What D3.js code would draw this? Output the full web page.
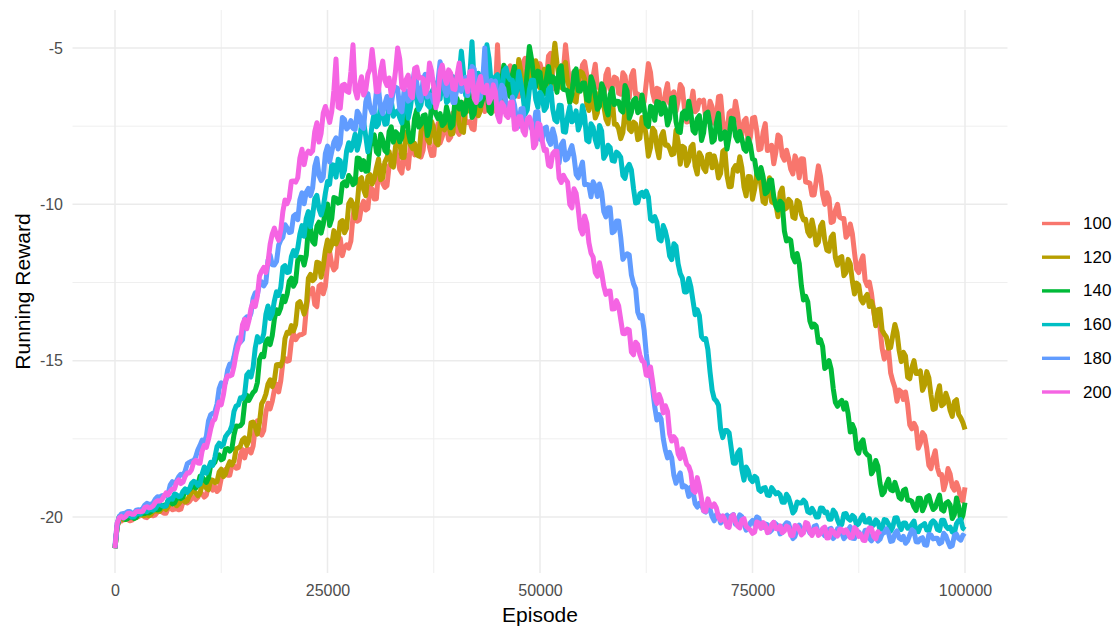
<!DOCTYPE html>
<html>
<head>
<meta charset="utf-8">
<script src="https://cdn.jsdelivr.net/npm/d3@7"></script>
<style>
  body { margin: 0; background: #ffffff; }
  svg { display: block; font-family: "Liberation Sans", Arial, Helvetica, sans-serif; }
</style>
</head>
<body>
<svg id="chart" width="1117" height="627"></svg>
<script>
// Running reward per episode, logged every 250 episodes, one array per setting.
const EPISODE_STEP = 250;
const seriesNames = ["100", "120", "140", "160", "180", "200"];
const seriesColors = ["#F8766D", "#B79F00", "#00BA38", "#00BFC4", "#619CFF", "#F564E3"];
const xTicks = [0, 25000, 50000, 75000, 100000];
const xMinor = [12500, 37500, 62500, 87500];
const yTicks = [-20, -15, -10, -5];
const yMinor = [-17.5, -12.5, -7.5];

const reward100 = [
  -21.0,-20.30,-20.14,-20.13,-20.03,-20.04,-20.08,-20.12,-20.10,-20.01,
  -20.00,-19.99,-19.94,-19.94,-20.00,-20.02,-19.94,-19.94,-19.96,-19.93,
  -19.84,-19.79,-19.83,-19.88,-19.88,-19.72,-19.65,-19.77,-19.75,-19.73,
  -19.77,-19.75,-19.52,-19.46,-19.55,-19.50,-19.41,-19.37,-19.44,-19.37,
  -19.19,-19.26,-19.36,-19.30,-18.95,-18.97,-19.14,-19.03,-19.18,-19.11,
  -18.76,-18.55,-18.48,-18.66,-18.66,-18.35,-18.36,-18.44,-18.42,-18.02,
  -17.84,-18.11,-17.84,-17.84,-17.95,-17.73,-17.15,-16.92,-17.29,-17.38,
  -17.23,-16.65,-16.36,-16.54,-16.30,-15.94,-15.75,-16.00,-15.65,-15.05,
  -14.93,-15.02,-14.99,-14.38,-14.13,-14.33,-14.23,-14.17,-14.16,-14.12,
  -13.35,-12.90,-12.80,-12.69,-13.20,-13.27,-12.61,-12.56,-12.86,-12.62,
  -11.93,-11.52,-11.91,-12.10,-12.02,-11.29,-11.09,-11.64,-11.38,-11.30,
  -11.40,-11.17,-10.39,-10.02,-10.54,-10.49,-10.07,-9.90,-10.18,-10.13,
  -9.45,-9.51,-9.83,-9.82,-8.90,-8.76,-9.33,-9.46,-9.40,-8.77,
  -8.68,-8.69,-8.25,-8.52,-8.88,-9.00,-8.40,-8.45,-8.85,-8.10,
  -7.97,-8.42,-8.15,-8.14,-8.49,-8.27,-7.59,-7.48,-8.17,-8.44,
  -8.43,-7.66,-7.42,-8.04,-7.84,-7.58,-7.49,-7.94,-7.85,-7.08,
  -7.20,-7.66,-7.76,-7.04,-6.76,-7.39,-7.38,-7.35,-7.58,-7.61,
  -6.74,-6.14,-6.25,-6.73,-7.03,-6.49,-6.48,-6.98,-7.02,-6.46,
  -4.90,-6.44,-6.17,-6.17,-6.52,-5.73,-5.57,-6.27,-6.24,-6.22,
  -6.55,-6.24,-5.48,-5.33,-5.99,-5.97,-5.67,-5.63,-6.13,-6.22,
  -5.50,-5.74,-6.16,-5.98,-5.26,-5.17,-5.98,-6.31,-6.28,-5.71,
  -5.58,-5.72,-4.90,-5.56,-6.15,-6.40,-5.75,-5.73,-6.42,-6.07,
  -5.54,-5.44,-5.87,-6.36,-6.39,-5.91,-5.52,-6.26,-6.27,-6.29,
  -6.67,-5.86,-5.68,-6.33,-6.25,-5.93,-5.97,-6.45,-6.48,-5.79,
  -5.90,-6.38,-6.59,-5.89,-5.72,-6.50,-6.47,-6.55,-6.80,-6.73,
  -6.11,-5.50,-5.78,-6.43,-6.71,-6.29,-6.32,-6.98,-7.01,-6.44,
  -6.14,-6.77,-6.49,-6.40,-7.02,-6.69,-6.17,-6.29,-6.94,-7.37,
  -7.35,-6.82,-6.38,-7.04,-6.97,-6.67,-6.72,-6.67,-7.25,-7.34,
  -6.70,-6.88,-7.41,-7.21,-6.56,-6.54,-7.33,-7.64,-7.68,-7.08,
  -7.01,-7.26,-6.70,-7.10,-7.68,-7.78,-7.33,-7.25,-8.07,-7.84,
  -7.24,-7.22,-7.64,-8.25,-8.22,-7.69,-7.42,-8.28,-8.24,-8.11,
  -8.70,-8.33,-7.78,-7.85,-8.45,-8.59,-8.27,-8.53,-8.88,-9.03,
  -8.45,-8.62,-9.15,-8.54,-8.55,-9.29,-9.30,-9.32,-9.70,-9.70,
  -9.25,-8.77,-9.10,-9.69,-10.00,-9.63,-9.80,-10.58,-10.55,-10.19,
  -10.00,-10.41,-10.45,-10.45,-11.05,-10.96,-10.63,-10.94,-11.55,-12.08,
  -12.18,-11.83,-11.65,-12.43,-12.60,-12.49,-12.85,-13.41,-13.85,-13.72,
  -13.95,-14.60,-14.95,-14.77,-14.65,-15.39,-15.65,-15.86,-16.30,-15.94,
  -16.00,-16.24,-16.00,-16.41,-17.05,-17.18,-17.00,-17.13,-17.80,-17.64,
  -17.30,-17.40,-17.80,-18.35,-18.45,-18.12,-17.88,-18.42,-18.65,-18.64,
  -19.13,-18.89,-18.45,-18.62,-19.03,-19.14,-18.90,-19.09,-19.43,-19.49,
  -19.05
];

const reward120 = [
  -21.0,-20.30,-20.04,-20.04,-20.09,-20.08,-19.98,-19.98,-19.99,-20.04,
  -20.02,-19.91,-19.90,-19.95,-19.95,-19.93,-19.96,-19.92,-19.81,-19.80,
  -19.81,-19.82,-19.73,-19.71,-19.76,-19.67,-19.54,-19.51,-19.59,-19.64,
  -19.58,-19.48,-19.40,-19.52,-19.48,-19.32,-19.23,-19.16,-19.23,-19.32,
  -19.24,-18.97,-18.84,-19.08,-19.13,-18.81,-18.82,-18.90,-18.87,-18.56,
  -18.47,-18.71,-18.63,-18.39,-18.23,-18.33,-18.21,-17.82,-17.79,-17.73,
  -17.53,-17.47,-17.71,-17.56,-16.99,-16.96,-17.11,-17.35,-16.98,-16.38,
  -16.26,-16.07,-15.75,-15.61,-15.83,-15.63,-15.13,-15.12,-15.17,-14.97,
  -14.29,-14.09,-14.12,-13.88,-14.05,-13.85,-13.17,-13.11,-13.28,-13.51,
  -13.28,-12.36,-12.24,-12.44,-12.37,-11.85,-11.87,-12.33,-11.98,-11.47,
  -11.14,-11.49,-11.30,-10.84,-11.27,-11.10,-10.57,-10.52,-10.91,-10.76,
  -9.98,-9.86,-10.00,-10.44,-9.98,-9.21,-9.15,-9.53,-9.72,-9.12,
  -9.05,-9.35,-9.20,-8.83,-8.55,-9.21,-9.15,-8.65,-8.50,-8.31,
  -8.75,-8.81,-8.15,-7.92,-8.05,-8.50,-8.50,-7.69,-7.68,-8.09,
  -8.22,-8.05,-8.42,-8.46,-7.68,-7.39,-7.28,-7.93,-8.03,-7.35,
  -7.57,-8.02,-8.10,-7.43,-7.20,-7.62,-7.40,-7.45,-7.76,-7.74,
  -6.82,-6.77,-7.44,-7.66,-7.70,-6.87,-6.58,-7.03,-7.02,-6.78,
  -6.62,-7.17,-7.00,-6.38,-6.12,-6.03,-6.56,-7.02,-6.76,-6.23,
  -6.06,-6.64,-6.77,-5.89,-5.81,-6.09,-6.10,-5.92,-6.27,-6.23,
  -5.37,-5.76,-6.32,-6.28,-5.70,-5.42,-6.03,-5.90,-5.41,-5.62,
  -6.28,-6.30,-5.68,-5.76,-6.10,-6.25,-5.50,-4.85,-5.50,-5.97,
  -6.26,-5.59,-5.46,-6.10,-6.28,-6.44,-6.68,-6.73,-6.06,-5.75,
  -5.80,-5.99,-6.80,-7.00,-6.48,-6.68,-7.24,-7.07,-6.44,-6.24,
  -6.84,-7.27,-7.42,-6.75,-6.62,-7.44,-7.44,-7.58,-7.90,-7.71,
  -6.98,-6.84,-7.60,-7.67,-7.37,-7.43,-7.93,-7.89,-7.22,-7.39,
  -7.83,-8.46,-8.19,-7.57,-7.66,-8.18,-8.51,-7.82,-7.67,-8.11,
  -8.10,-8.21,-8.41,-8.38,-7.63,-8.00,-8.72,-8.14,-8.19,-8.76,
  -8.61,-8.17,-8.08,-8.78,-9.03,-8.35,-8.48,-8.85,-8.95,-8.41,
  -8.40,-8.83,-8.45,-8.72,-9.16,-9.01,-8.31,-8.25,-9.08,-9.44,
  -9.43,-8.87,-8.76,-8.94,-8.48,-8.83,-9.45,-9.73,-9.11,-9.12,
  -9.84,-9.52,-9.02,-8.95,-9.41,-9.92,-9.97,-9.52,-9.15,-9.92,
  -9.96,-10.00,-10.40,-9.63,-9.48,-10.16,-10.12,-9.84,-9.92,-10.41,
  -10.45,-9.88,-9.93,-10.32,-10.50,-10.48,-10.88,-11.01,-10.50,-10.83,
  -11.30,-11.21,-10.70,-10.58,-11.15,-11.47,-11.50,-11.05,-10.95,-11.70,
  -11.95,-11.71,-11.67,-12.28,-12.18,-11.76,-11.90,-12.46,-12.87,-12.52,
  -12.58,-13.04,-13.15,-12.98,-12.88,-13.27,-13.10,-13.35,-13.88,-13.37,
  -13.35,-14.03,-14.15,-14.24,-14.60,-14.58,-14.20,-13.84,-14.10,-14.67,
  -15.03,-14.73,-14.85,-15.53,-15.58,-15.22,-15.00,-15.41,-15.40,-15.33,
  -15.95,-15.79,-15.35,-15.55,-16.10,-16.56,-16.53,-16.06,-15.80,-16.44,
  -16.38,-16.04,-16.25,-16.59,-16.78,-16.31,-16.25,-16.72,-16.83,-16.98,
  -17.20
];

const reward140 = [
  -21.0,-20.30,-20.00,-19.99,-20.04,-20.08,-20.05,-20.00,-19.98,-20.05,
  -20.01,-19.91,-19.89,-19.90,-19.89,-19.85,-19.87,-19.83,-19.73,-19.75,
  -19.77,-19.75,-19.64,-19.62,-19.64,-19.47,-19.44,-19.58,-19.55,-19.41,
  -19.35,-19.41,-19.36,-19.16,-19.14,-19.12,-19.04,-19.00,-19.07,-18.98,
  -18.70,-18.72,-18.81,-18.89,-18.75,-18.36,-18.32,-18.25,-18.03,-18.01,
  -18.17,-18.13,-17.83,-17.81,-17.89,-17.81,-17.37,-17.09,-17.10,-17.08,
  -16.99,-16.37,-16.10,-16.27,-16.14,-16.02,-15.95,-15.70,-14.96,-14.80,
  -14.87,-14.38,-14.30,-14.49,-14.20,-13.67,-13.37,-13.49,-13.31,-12.94,
  -13.11,-12.88,-12.46,-12.36,-12.62,-12.48,-11.79,-11.69,-11.70,-11.94,
  -11.63,-10.74,-10.75,-11.19,-11.27,-10.70,-10.57,-10.92,-10.64,-10.18,
  -9.99,-10.68,-10.46,-9.78,-9.81,-9.96,-9.93,-9.34,-9.28,-9.41,
  -9.08,-9.18,-9.37,-9.31,-8.52,-8.53,-8.89,-8.60,-8.94,-8.93,
  -8.20,-7.81,-7.78,-8.32,-8.40,-7.76,-7.93,-8.28,-8.35,-7.67,
  -7.52,-8.01,-7.68,-7.75,-8.00,-7.86,-7.17,-6.98,-7.68,-8.00,
  -7.95,-7.24,-6.98,-7.53,-7.44,-7.16,-7.14,-7.80,-7.55,-6.81,
  -6.79,-7.12,-7.26,-7.10,-7.48,-7.41,-6.88,-7.17,-7.55,-7.46,
  -6.64,-6.62,-6.95,-6.73,-7.14,-7.06,-6.25,-6.56,-7.22,-7.11,
  -6.55,-6.30,-6.85,-6.65,-6.18,-6.33,-7.01,-7.09,-6.35,-6.44,
  -6.70,-6.64,-6.03,-5.55,-5.97,-6.45,-6.56,-5.85,-5.59,-6.24,
  -6.25,-6.23,-6.48,-6.56,-5.74,-4.95,-5.35,-5.88,-6.23,-5.74,
  -5.78,-6.35,-6.47,-5.99,-5.59,-6.12,-5.92,-5.99,-6.42,-5.68,
  -5.57,-6.32,-6.34,-6.37,-6.75,-6.49,-5.78,-5.67,-6.37,-6.38,
  -6.12,-6.12,-6.65,-6.69,-5.92,-6.13,-6.51,-6.96,-6.86,-6.14,
  -6.31,-6.91,-7.14,-6.49,-6.29,-6.81,-6.70,-6.71,-6.99,-7.05,
  -6.20,-6.37,-7.25,-7.06,-6.68,-6.61,-7.07,-7.01,-6.50,-6.92,
  -7.43,-7.51,-6.86,-6.91,-7.31,-6.71,-6.74,-7.12,-6.77,-6.94,
  -7.46,-7.26,-6.60,-6.58,-7.36,-7.67,-7.70,-7.09,-7.02,-7.27,
  -6.70,-7.08,-7.64,-7.72,-7.26,-7.16,-7.96,-7.71,-7.10,-7.05,
  -7.44,-8.01,-7.95,-7.39,-7.09,-7.92,-7.84,-7.68,-8.23,-7.83,
  -7.25,-7.27,-7.82,-7.97,-7.67,-7.91,-8.23,-8.30,-7.89,-8.10,
  -8.55,-8.58,-9.02,-9.16,-8.82,-9.12,-9.66,-9.60,-9.23,-9.22,
  -9.75,-10.06,-10.18,-9.90,-9.98,-10.85,-11.17,-11.10,-11.15,-11.68,
  -11.84,-11.57,-11.89,-12.60,-13.06,-12.94,-13.11,-13.73,-13.93,-13.83,
  -13.90,-14.42,-14.33,-14.55,-15.25,-15.19,-15.00,-15.27,-15.89,-16.33,
  -16.46,-16.34,-16.27,-16.55,-16.35,-16.70,-17.28,-17.04,-17.21,-17.83,
  -17.96,-17.63,-17.53,-17.92,-18.01,-18.05,-18.62,-18.50,-18.19,-18.38,
  -18.92,-19.29,-19.20,-18.95,-18.79,-19.13,-19.16,-18.89,-19.11,-19.37,
  -19.43,-19.15,-19.11,-19.46,-19.46,-19.50,-19.68,-19.79,-19.40,-19.40,
  -19.80,-19.64,-19.37,-19.32,-19.57,-19.76,-19.70,-19.48,-19.30,-19.76,
  -19.81,-19.56,-19.51,-19.61,-20.05,-19.92,-19.39,-19.65,-20.10,-19.95,
  -19.54
];

const reward160 = [
  -21.0,-20.30,-19.98,-19.96,-20.00,-19.99,-19.93,-19.96,-20.00,-19.99,
  -19.90,-19.89,-19.91,-19.83,-19.81,-19.83,-19.77,-19.76,-19.78,-19.73,
  -19.62,-19.58,-19.63,-19.66,-19.65,-19.47,-19.41,-19.43,-19.26,-19.29,
  -19.35,-19.33,-19.18,-19.10,-19.21,-19.11,-18.93,-18.86,-18.89,-18.99,
  -18.95,-18.62,-18.40,-18.60,-18.44,-18.25,-18.35,-18.09,-17.75,-17.64,
  -17.74,-17.68,-17.43,-17.33,-17.26,-17.08,-16.62,-16.45,-16.42,-16.19,
  -16.21,-16.08,-15.46,-15.37,-15.52,-15.21,-14.59,-14.23,-14.40,-14.36,
  -14.14,-13.52,-13.25,-13.65,-13.50,-13.09,-12.80,-12.91,-12.66,-12.01,
  -11.96,-12.18,-12.16,-11.67,-11.48,-11.65,-11.40,-10.95,-10.68,-11.02,
  -10.45,-10.23,-10.72,-10.36,-9.82,-9.71,-10.14,-10.34,-10.09,-9.64,
  -9.27,-9.36,-8.73,-8.75,-9.13,-8.56,-8.61,-9.12,-8.91,-8.29,
  -8.03,-8.27,-8.06,-7.76,-8.27,-7.99,-7.44,-7.37,-7.83,-8.32,
  -8.00,-7.45,-7.07,-7.52,-7.43,-6.82,-7.10,-7.44,-7.42,-6.83,
  -6.68,-7.18,-7.05,-7.01,-7.23,-7.40,-6.67,-6.60,-7.25,-6.92,
  -6.40,-6.27,-6.67,-6.97,-6.82,-6.37,-6.00,-6.81,-6.89,-6.41,
  -6.29,-6.12,-6.57,-6.63,-5.97,-6.18,-6.74,-6.67,-6.14,-5.92,
  -6.50,-6.31,-5.85,-5.10,-5.80,-6.51,-6.41,-5.85,-4.80,-6.07,
  -6.13,-5.81,-6.38,-6.21,-5.68,-4.90,-5.33,-6.11,-6.25,-5.92,
  -5.85,-6.64,-6.52,-5.72,-5.64,-5.92,-6.02,-6.03,-6.57,-6.39,
  -5.75,-6.10,-6.54,-7.12,-6.98,-6.33,-6.03,-6.03,-6.65,-6.90,
  -6.42,-6.53,-7.00,-6.89,-6.32,-6.24,-6.96,-7.30,-7.36,-6.83,
  -6.84,-7.67,-7.69,-7.19,-6.87,-7.36,-7.30,-7.01,-7.62,-7.42,
  -6.85,-7.18,-7.95,-8.00,-7.42,-7.54,-7.93,-8.16,-7.48,-7.65,
  -8.53,-8.41,-8.11,-8.18,-8.60,-8.62,-8.33,-8.39,-8.50,-9.08,
  -9.17,-8.83,-8.72,-8.90,-9.49,-9.96,-9.94,-9.66,-9.62,-9.75,
  -9.58,-9.76,-10.48,-10.53,-10.39,-10.57,-11.11,-11.17,-10.68,-10.86,
  -11.16,-11.65,-11.77,-11.26,-11.34,-11.90,-12.21,-12.36,-12.80,-12.80,
  -12.37,-12.64,-13.09,-13.53,-13.37,-13.56,-14.23,-14.32,-14.29,-14.64,
  -15.35,-15.94,-16.22,-16.29,-16.42,-17.18,-17.46,-17.23,-17.23,-17.31,
  -17.80,-18.28,-18.28,-17.95,-17.85,-18.49,-18.82,-18.40,-18.52,-18.79,
  -18.87,-18.70,-18.75,-19.13,-19.18,-19.08,-19.06,-19.30,-19.31,-19.06,
  -19.16,-19.26,-19.22,-19.29,-19.53,-19.53,-19.27,-19.38,-19.60,-19.87,
  -19.78,-19.52,-19.55,-19.55,-19.46,-19.54,-19.83,-19.87,-19.72,-19.84,
  -20.00,-20.00,-19.71,-19.72,-19.86,-19.84,-20.07,-20.07,-19.78,-19.87,
  -20.09,-20.26,-20.24,-19.90,-19.89,-20.05,-20.10,-19.95,-20.01,-20.27,
  -20.21,-20.04,-19.94,-20.16,-20.16,-20.05,-20.29,-20.26,-20.09,-20.16,
  -20.40,-20.37,-20.08,-20.10,-20.22,-20.45,-20.32,-20.03,-20.02,-20.25,
  -20.40,-20.19,-20.19,-20.36,-20.34,-20.22,-20.13,-20.44,-20.47,-20.30,
  -20.26,-20.21,-20.41,-20.44,-20.19,-20.12,-20.19,-20.40,-20.43,-20.10,
  -20.10,-20.29,-20.37,-20.32,-20.48,-20.51,-20.21,-20.11,-20.08,-20.36,
  -20.41
];

const reward180 = [
  -20.9,-20.20,-20.00,-19.90,-19.89,-19.87,-19.82,-19.82,-19.88,-19.88,
  -19.78,-19.77,-19.78,-19.73,-19.62,-19.56,-19.59,-19.59,-19.54,-19.42,
  -19.35,-19.37,-19.32,-19.31,-19.32,-19.25,-18.97,-18.87,-18.92,-18.84,
  -18.71,-18.63,-18.66,-18.53,-18.30,-18.25,-18.21,-18.22,-18.07,-17.85,
  -17.71,-17.54,-17.62,-17.41,-16.92,-16.73,-16.68,-16.63,-16.39,-15.89,
  -15.71,-15.76,-15.70,-15.30,-15.11,-15.15,-14.87,-14.53,-14.27,-14.41,
  -14.33,-13.67,-13.60,-13.66,-13.48,-13.01,-12.83,-12.89,-12.53,-12.48,
  -12.61,-12.50,-11.79,-11.62,-11.93,-11.94,-11.83,-11.31,-11.14,-11.05,
  -10.65,-10.75,-10.90,-10.88,-10.38,-10.32,-10.49,-9.85,-9.63,-9.98,
  -9.61,-9.49,-9.72,-9.48,-8.79,-8.53,-9.08,-9.24,-9.13,-8.37,
  -8.14,-8.64,-8.32,-8.01,-7.87,-8.23,-8.05,-7.22,-7.29,-7.59,
  -7.52,-7.32,-7.57,-7.61,-7.02,-7.13,-7.51,-7.57,-6.73,-6.46,
  -6.90,-7.07,-7.05,-6.41,-6.30,-6.93,-7.10,-6.78,-6.55,-7.04,
  -6.80,-6.35,-6.25,-6.29,-6.95,-7.04,-6.40,-6.37,-6.70,-6.64,
  -6.13,-5.72,-6.11,-6.54,-6.69,-6.00,-5.84,-6.57,-6.49,-6.53,
  -6.74,-6.67,-6.06,-5.44,-5.71,-6.30,-6.52,-6.09,-6.11,-6.74,
  -6.74,-6.14,-5.81,-6.39,-6.07,-5.94,-6.52,-6.15,-5.59,-5.66,
  -6.27,-6.66,-6.60,-6.10,-5.00,-6.36,-6.32,-6.04,-6.12,-6.06,
  -6.63,-6.77,-6.19,-6.29,-6.75,-7.16,-7.12,-6.57,-6.82,-7.30,
  -7.51,-6.95,-6.93,-7.52,-7.30,-7.35,-7.58,-7.59,-7.05,-7.04,
  -7.92,-7.93,-7.57,-7.53,-7.94,-8.08,-7.59,-7.84,-8.36,-8.68,
  -8.09,-7.98,-8.58,-8.53,-8.30,-8.12,-8.48,-9.04,-9.15,-8.86,
  -8.65,-9.37,-9.36,-9.38,-9.76,-9.28,-9.42,-9.75,-9.35,-9.61,
  -10.23,-10.40,-10.11,-10.11,-10.91,-10.86,-10.53,-10.53,-11.06,-11.76,
  -11.65,-11.58,-11.62,-12.26,-12.54,-12.70,-13.45,-13.63,-13.56,-14.02,
  -14.77,-15.35,-15.50,-15.90,-16.48,-16.90,-16.72,-16.87,-17.49,-17.86,
  -18.11,-17.93,-18.11,-18.67,-18.92,-18.73,-18.59,-19.04,-19.00,-19.05,
  -19.34,-19.05,-19.18,-19.57,-19.68,-19.56,-19.58,-19.80,-19.84,-19.63,
  -19.75,-19.99,-20.12,-19.92,-19.93,-20.19,-20.12,-19.99,-19.94,-20.07,
  -19.97,-19.92,-20.23,-20.15,-19.93,-19.99,-20.22,-20.42,-20.35,-20.18,
  -20.11,-20.24,-20.00,-20.04,-20.35,-20.33,-20.22,-20.24,-20.48,-20.42,
  -20.17,-20.22,-20.30,-20.54,-20.49,-20.27,-20.18,-20.20,-20.47,-20.69,
  -20.62,-20.37,-20.26,-20.45,-20.46,-20.25,-20.36,-20.51,-20.55,-20.30,
  -20.27,-20.54,-20.48,-20.50,-20.60,-20.61,-20.39,-20.36,-20.69,-20.60,
  -20.37,-20.35,-20.51,-20.69,-20.61,-20.41,-20.31,-20.68,-20.69,-20.44,
  -20.48,-20.59,-20.63,-20.42,-20.42,-20.68,-20.76,-20.64,-20.55,-20.77,
  -20.71,-20.54,-20.50,-20.38,-20.51,-20.78,-20.76,-20.53,-20.44,-20.67,
  -20.72,-20.62,-20.84,-20.76,-20.58,-20.41,-20.46,-20.79,-20.80,-20.69,
  -20.66,-20.89,-20.90,-20.56,-20.57,-20.70,-20.68,-20.68,-20.85,-20.81,
  -20.52,-20.60,-20.79,-20.95,-20.92,-20.59,-20.55,-20.69,-20.74,-20.58,
  -20.63
];

const reward200 = [
  -21.0,-20.20,-20.02,-19.98,-20.03,-19.98,-19.89,-19.88,-19.91,-19.91,
  -19.83,-19.82,-19.83,-19.82,-19.70,-19.67,-19.71,-19.69,-19.64,-19.53,
  -19.48,-19.49,-19.45,-19.34,-19.23,-19.29,-19.18,-19.10,-19.10,-18.89,
  -18.81,-18.93,-18.88,-18.70,-18.59,-18.59,-18.49,-18.25,-18.19,-18.27,
  -18.28,-17.89,-17.71,-17.77,-17.51,-17.19,-16.94,-16.87,-16.59,-16.32,
  -16.41,-16.10,-15.65,-15.48,-15.49,-15.46,-15.18,-14.79,-14.51,-14.36,
  -13.85,-13.68,-13.98,-13.72,-13.33,-13.12,-13.27,-12.93,-12.29,-12.13,
  -12.02,-12.18,-11.85,-11.28,-10.95,-10.76,-10.99,-11.15,-10.83,-10.23,
  -9.86,-9.98,-9.80,-9.26,-9.25,-9.29,-9.15,-8.52,-8.24,-8.73,
  -8.40,-8.30,-8.37,-8.29,-7.67,-7.39,-8.01,-7.73,-7.08,-6.87,
  -7.10,-7.38,-7.03,-6.36,-5.35,-6.89,-6.93,-6.19,-6.16,-6.38,
  -6.42,-5.77,-4.90,-6.35,-6.60,-6.22,-5.92,-6.50,-6.35,-5.84,
  -5.68,-5.05,-5.68,-6.40,-6.39,-5.73,-5.42,-6.04,-6.20,-5.96,
  -6.52,-6.27,-5.74,-5.00,-5.35,-6.25,-6.33,-6.01,-5.87,-6.50,
  -6.59,-5.65,-5.61,-5.96,-5.94,-5.98,-6.46,-6.29,-5.48,-5.74,
  -6.26,-6.91,-6.65,-5.74,-5.55,-5.93,-6.13,-5.70,-5.81,-6.30,
  -6.33,-5.86,-5.48,-6.14,-6.07,-6.05,-6.39,-5.75,-5.74,-6.60,
  -6.74,-6.15,-5.91,-6.40,-6.43,-6.19,-6.75,-6.60,-6.18,-6.40,
  -7.15,-7.36,-6.75,-6.86,-7.15,-7.22,-6.75,-6.73,-7.60,-7.58,
  -7.20,-7.20,-7.65,-7.78,-7.28,-7.21,-7.40,-8.19,-8.08,-7.41,
  -7.45,-7.96,-8.28,-8.25,-8.75,-8.79,-8.38,-8.30,-8.30,-9.16,
  -9.30,-9.07,-9.20,-9.29,-10.00,-10.11,-9.50,-9.65,-10.15,-10.78,
  -10.95,-10.37,-10.60,-11.22,-11.56,-11.69,-12.18,-12.30,-11.87,-12.18,
  -12.61,-12.88,-12.78,-12.77,-13.35,-13.34,-13.08,-13.24,-13.69,-14.13,
  -14.14,-13.99,-14.02,-14.72,-14.81,-14.41,-14.49,-14.81,-15.00,-15.05,
  -15.46,-15.48,-15.20,-15.66,-16.18,-16.37,-16.08,-16.26,-16.67,-16.44,
  -16.62,-17.34,-17.57,-17.43,-17.52,-17.98,-18.13,-17.82,-18.05,-18.31,
  -18.38,-18.58,-19.14,-19.21,-18.74,-19.02,-19.42,-19.80,-19.82,-19.42,
  -19.61,-19.67,-19.58,-19.71,-20.01,-20.11,-19.96,-20.08,-20.30,-20.33,
  -20.00,-19.93,-20.15,-20.29,-20.35,-20.09,-20.05,-20.30,-20.36,-20.42,
  -20.52,-20.48,-20.16,-20.19,-20.36,-20.18,-20.26,-20.50,-20.45,-20.24,
  -20.17,-20.37,-20.38,-20.28,-20.50,-20.45,-20.29,-20.33,-20.59,-20.59,
  -20.27,-20.30,-20.41,-20.57,-20.51,-20.18,-20.21,-20.47,-20.59,-20.40,
  -20.38,-20.59,-20.53,-20.37,-20.32,-20.67,-20.66,-20.41,-20.45,-20.57,
  -20.61,-20.40,-20.40,-20.50,-20.41,-20.52,-20.66,-20.64,-20.34,-20.41,
  -20.62,-20.55,-20.74,-20.75,-20.48,-20.35,-20.36,-20.62,-20.70,-20.47,
  -20.56
];

const rewardSeries = [reward100, reward120, reward140, reward160, reward180, reward200];

// Plot geometry
const svg = d3.select("#chart");
const panel = { left: 72.5, right: 1007.5, top: 10, bottom: 573 };

const x = d3.scaleLinear().domain([-5000, 105000]).range([panel.left, panel.right]);
const y = d3.scaleLinear().domain([-21.79, -3.785]).range([panel.bottom, panel.top]);

svg.append("rect").attr("width", 1117).attr("height", 627).attr("fill", "#ffffff");

// Grid: minor lines first, then major
const grid = svg.append("g");
grid.selectAll(".vminor").data(xMinor).join("line")
  .attr("x1", d => x(d)).attr("x2", d => x(d))
  .attr("y1", panel.top).attr("y2", panel.bottom)
  .attr("stroke", "#EFEFEF").attr("stroke-width", 1);
grid.selectAll(".hminor").data(yMinor).join("line")
  .attr("x1", panel.left).attr("x2", panel.right)
  .attr("y1", d => y(d)).attr("y2", d => y(d))
  .attr("stroke", "#EFEFEF").attr("stroke-width", 1);
grid.selectAll(".vmajor").data(xTicks).join("line")
  .attr("x1", d => x(d)).attr("x2", d => x(d))
  .attr("y1", panel.top).attr("y2", panel.bottom)
  .attr("stroke", "#EBEBEB").attr("stroke-width", 1.5);
grid.selectAll(".hmajor").data(yTicks).join("line")
  .attr("x1", panel.left).attr("x2", panel.right)
  .attr("y1", d => y(d)).attr("y2", d => y(d))
  .attr("stroke", "#EBEBEB").attr("stroke-width", 1.5);

// Reward curves, drawn in legend order so the last setting sits on top
const line = d3.line()
  .x((d, i) => x(i * EPISODE_STEP))
  .y(d => y(d));

const lines = svg.append("g");
rewardSeries.forEach((values, k) => {
  lines.append("path")
    .datum(values)
    .attr("d", line)
    .attr("fill", "none")
    .attr("stroke", seriesColors[k])
    .attr("stroke-width", 5)
    .attr("stroke-linejoin", "round")
    .attr("stroke-linecap", "butt");
});

// Axes (labels only, no axis lines); plain hyphen for negative numbers
const plain = d => String(d);
const xAxis = d3.axisBottom(x).tickValues(xTicks).tickSize(0).tickPadding(12).tickFormat(plain);
const gx = svg.append("g").attr("transform", `translate(0,${panel.bottom})`).call(xAxis);
gx.select(".domain").remove();
gx.selectAll("text").attr("fill", "#4D4D4D").style("font-size", "16px")
  .style("font-family", "'Liberation Sans', Arial, sans-serif");

const yAxis = d3.axisLeft(y).tickValues(yTicks).tickSize(0).tickPadding(9.5).tickFormat(plain);
const gy = svg.append("g").attr("transform", `translate(${panel.left},0)`).call(yAxis);
gy.select(".domain").remove();
gy.selectAll("text").attr("fill", "#4D4D4D").style("font-size", "16px")
  .style("font-family", "'Liberation Sans', Arial, sans-serif");

// Axis titles
svg.append("text")
  .attr("x", (panel.left + panel.right) / 2).attr("y", 622)
  .attr("text-anchor", "middle")
  .attr("fill", "#000000").style("font-size", "21px")
  .text("Episode");

svg.append("text")
  .attr("transform", `translate(30,${(panel.top + panel.bottom) / 2}) rotate(-90)`)
  .attr("text-anchor", "middle")
  .attr("fill", "#000000").style("font-size", "21px")
  .text("Running Reward");

// Legend
const legend = svg.append("g");
const legendY = d3.scaleLinear().domain([0, seriesNames.length - 1]).range([223.5, 392]);
seriesNames.forEach((name, k) => {
  const cy = legendY(k);
  legend.append("line")
    .attr("x1", 1042).attr("x2", 1070)
    .attr("y1", cy).attr("y2", cy)
    .attr("stroke", seriesColors[k]).attr("stroke-width", 3.4);
  legend.append("text")
    .attr("x", 1083).attr("y", cy)
    .attr("dominant-baseline", "central")
    .attr("fill", "#000000").style("font-size", "17px")
    .text(name);
});
</script>
</body>
</html>
